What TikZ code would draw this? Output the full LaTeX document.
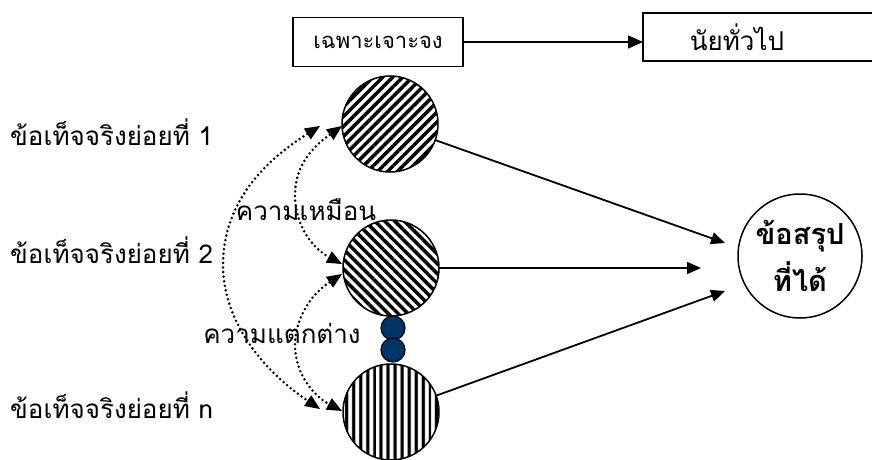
\documentclass[tikz,border=0pt]{standalone}
\usepackage{fontspec}
\setmainfont[Script=Thai]{Loma}
\usetikzlibrary{arrows.meta,patterns.meta}
\definecolor{navy}{HTML}{003366}
\begin{document}
\begin{tikzpicture}[x=1pt,y=-1pt,
  lbl/.style={font=\fontsize{26}{30}\selectfont, inner sep=0pt},
  boxnode/.style={draw, line width=1.3pt, inner sep=0pt, outer sep=0pt},
  fact/.style={circle, draw, line width=1.5pt, minimum size=96pt, inner sep=0pt, outer sep=0pt},
  dot/.style={circle, draw, line width=1.2pt, fill=navy, minimum size=24pt, inner sep=0pt},
  solidarr/.style={line width=1.8pt, -{Triangle[length=14pt,width=12pt]}},
  dotarr/.style={line width=2.8pt, dash pattern=on 0pt off 4.6pt, line cap=round,
     {Triangle[length=15pt,width=13pt,line width=0pt]}-{Triangle[length=15pt,width=13pt,line width=0pt]}}
]
\useasboundingbox (0,0) rectangle (872,460);

% top boxes
\node[boxnode, minimum width=170pt, minimum height=49pt, font=\fontsize{22}{26}\selectfont] (b1) at (378,42) {เฉพาะเจาะจง};
\node[boxnode, minimum width=240pt, minimum height=48pt] (b2) at (763,37) {};
\node[inner sep=0pt, font=\fontsize{26}{30}\selectfont] (b2t) at (737,37) {นัยทั่วไป};
\draw[line width=1.5pt, -{Triangle[length=15pt,width=13pt]}] (b1.east) -- (b1.east -| b2.west);

% fact circles
\node[fact, pattern={Lines[angle=45,distance=7pt,line width=3.5pt]}] (c1) at (390,124) {};
\node[fact, pattern={Lines[angle=-45,distance=7pt,line width=3.5pt]}] (c2) at (391,268) {};
\node[fact, pattern={Lines[angle=90,distance=7.4pt,line width=3.6pt]}] (c3) at (391,412) {};
\node[dot] (d1) at (393,328) {};
\node[dot] (d2) at (393,350) {};

% conclusion
\node[circle, draw, line width=1.5pt, minimum size=124pt, inner sep=0pt, align=center,
      font=\fontsize{29}{47}\selectfont\bfseries] (cc) at (800,256) {ข้อสรุป\\ที่ได้};

% left labels
\node[lbl, anchor=west] (f1) at (10,132) {ข้อเท็จจริงย่อยที่ 1};
\node[lbl, anchor=west] (f2) at (10,250) {ข้อเท็จจริงย่อยที่ 2};
\node[lbl, anchor=west] (fn) at (10,405) {ข้อเท็จจริงย่อยที่ n};

% arrows to conclusion
\coordinate (t1) at (725,243);
\coordinate (t2) at (701,268);
\coordinate (t3) at (725,291);
\draw[solidarr] (c1) -- (t1);
\draw[solidarr] (c2.east) -- (t2);
\draw[solidarr] (c3) -- (t3);

% dotted double arrows
\coordinate (o1) at (320,126);
\coordinate (o3) at (320,409);
\coordinate (a1) at (342,126);
\coordinate (a2) at (342,264);
\coordinate (e2) at (342,274);
\coordinate (e3) at (342,411);
\draw[dotarr] (o1) .. controls (250,170) and (223,215) .. (223,265) .. controls (223,315) and (255,365) .. (o3);
\draw[dotarr] (a1) .. controls (308,150) and (295,170) .. (295,195) .. controls (295,225) and (312,248) .. (a2);
\draw[dotarr] (e2) .. controls (310,295) and (295,320) .. (295,345) .. controls (295,372) and (312,395) .. (e3);

% labels of relations
\node[lbl] (sim) at (306,210) {ความเหมือน};
\node[lbl] (dif) at (282,333) {ความแตกต่าง};
\end{tikzpicture}
\end{document}
